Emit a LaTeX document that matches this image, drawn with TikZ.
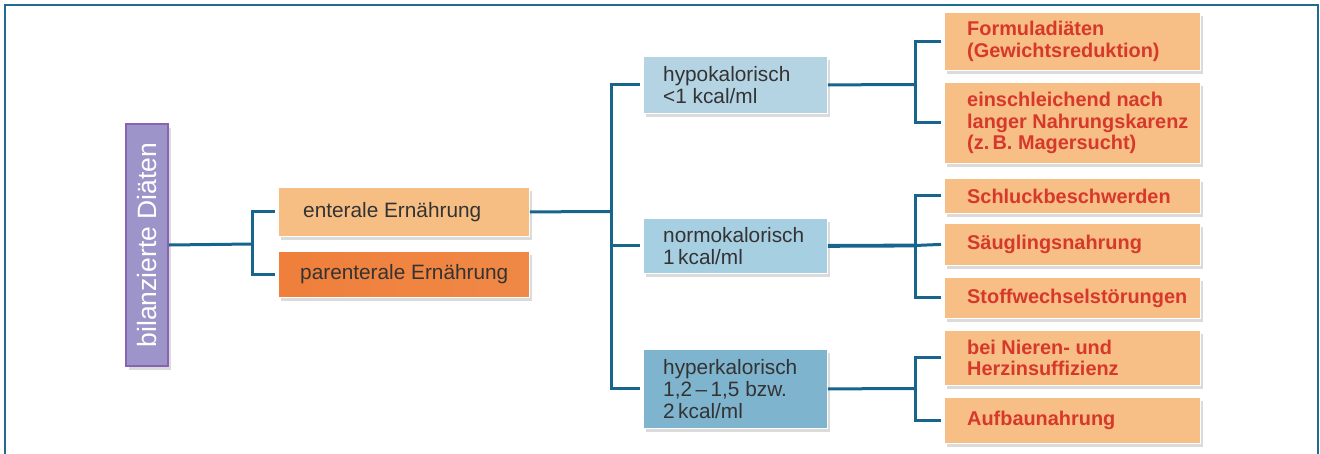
\documentclass[tikz,border=0pt]{standalone}
\usepackage{fontspec}
\setmainfont{Liberation Sans}
\usetikzlibrary{shadows}
\definecolor{framec}{HTML}{1D6D92}
\definecolor{connc}{HTML}{17658C}
\definecolor{purfill}{HTML}{9D94C9}
\definecolor{purdraw}{HTML}{8A62B2}
\definecolor{entfill}{HTML}{F7BE84}
\definecolor{parfill}{HTML}{EF7F3B}
\definecolor{hypofill}{HTML}{B4D4E4}
\definecolor{normofill}{HTML}{A7CFE2}
\definecolor{hyperfill}{HTML}{7FB4CE}
\definecolor{rfill}{HTML}{F7BE86}
\definecolor{redtxt}{HTML}{D7382C}
\definecolor{dtxt}{HTML}{333333}
\tikzset{
  shad/.style={drop shadow={shadow xshift=3pt, shadow yshift=-4pt, fill=black!14, opacity=1}},
  boxbase/.style={rectangle, draw=white, line width=0.8pt, shad, anchor=north west, inner sep=0pt},
  lbox/.style={boxbase, minimum width=251pt},
  bbox/.style={boxbase, minimum width=184pt},
  rbox/.style={boxbase, fill=rfill, minimum width=256pt},
  ltext/.style={anchor=west, inner sep=0pt, align=left, text=dtxt, font=\fontsize{20.8}{21.7}\selectfont},
  rtext/.style={anchor=west, inner sep=0pt, align=left, text=redtxt, font=\bfseries\fontsize{19.9}{21.5}\selectfont},
  conn/.style={draw=connc, line width=3pt},
}
\begin{document}
\begin{tikzpicture}[x=1pt,y=-1pt]
\useasboundingbox (0,0) rectangle (1320,453);
\clip (0,0) rectangle (1320,453);
% frame
\draw[framec, line width=2pt] (5,470) -- (5,5) -- (1318,5) -- (1318,470);

% root
\node[boxbase, draw=purdraw, line width=2pt, fill=purfill, minimum width=42pt, minimum height=242pt] (bil) at (125,123) {};
\node[rotate=90, text=white, inner sep=0pt, font=\fontsize{26.5}{28}\selectfont] (biltxt) at (bil.center) {bilanzierte Diäten};

% level 1
\node[lbox, fill=entfill, minimum height=49pt] (ent) at (278,187) {};
\node[ltext] (enttxt) at ([xshift=25pt]ent.west) {enterale Ernährung};
\node[lbox, left color=parfill, right color=parfill!85!entfill, minimum height=46pt] (par) at (278,251) {};
\node[ltext] (partxt) at ([xshift=22pt]par.west) {parenterale Ernährung};

% level 2
\node[bbox, fill=hypofill, minimum height=57pt] (hypo) at (643,56) {};
\node[ltext] (hypotxt) at ([xshift=20pt]hypo.west) {hypokalorisch\\<1 kcal/ml};
\node[bbox, fill=normofill, minimum height=55pt] (normo) at (643,218) {};
\node[ltext] (normotxt) at ([xshift=20pt]normo.west) {normokalorisch\\1\,kcal/ml};
\node[bbox, fill=hyperfill, minimum height=79pt] (hyper) at (643,349) {};
\node[ltext] (hypertxt) at ([xshift=20pt]hyper.west) {hyperkalorisch\\1,2\,–\,1,5 bzw.\\2\,kcal/ml};

% level 3
\node[rbox, minimum height=58pt] (f1) at (944,12) {};
\node[rtext] (f1t) at ([xshift=23pt]f1.west) {Formuladiäten\\(Gewichtsreduktion)};
\node[rbox, minimum height=81pt] (f2) at (944,82) {};
\node[rtext] (f2t) at ([xshift=23pt]f2.west) {einschleichend nach\\langer Nahrungskarenz\\(z.\,B. Magersucht)};
\node[rbox, minimum height=35pt] (s1) at (944,178) {};
\node[rtext] (s1t) at ([xshift=23pt]s1.west) {Schluckbeschwerden};
\node[rbox, minimum height=42pt] (s2) at (944,223) {};
\node[rtext] (s2t) at ([xshift=23pt]s2.west) {Säuglingsnahrung};
\node[rbox, minimum height=41pt] (s3) at (944,277) {};
\node[rtext] (s3t) at ([xshift=23pt]s3.west) {Stoffwechselstörungen};
\node[rbox, minimum height=55pt] (h1) at (944,330) {};
\node[rtext] (h1t) at ([xshift=23pt]h1.west) {bei Nieren- und\\Herzinsuffizienz};
\node[rbox, minimum height=46pt] (h2) at (944,397) {};
\node[rtext] (h2t) at ([xshift=23pt]h2.west) {Aufbaunahrung};

% junctions
\coordinate (j1) at (252,244);
\coordinate (j2) at (611,211.5);
\coordinate (j3) at (915,84.5);
\coordinate (j4) at (915,245.5);
\coordinate (j5) at (915,388.5);

% connectors
\draw[conn] (bil.east) -- (j1);
\draw[conn] ([xshift=-3pt]ent.west) -| (j1) |- ([xshift=-3pt]par.west);
\draw[conn] (ent.east) -- (j2);
\draw[conn] ([xshift=-3pt]hypo.west) -| (j2) |- ([xshift=-3pt]hyper.west);
\draw[conn] (j2 |- normo.west) -- ([xshift=-3pt]normo.west);
\draw[conn] (hypo.east) -- (j3);
\draw[conn] ([xshift=-3pt]f1.west) -| (j3) |- ([xshift=-3pt]f2.west);
\draw[conn, line width=3.8pt] (normo.east) -- (j4);
\draw[conn] ([xshift=-3pt]s1.west) -| (j4) |- ([xshift=-3pt]s3.west);
\draw[conn] (j4) -- ([xshift=-3pt]s2.west);
\draw[conn] (hyper.east) -- (j5);
\draw[conn] ([xshift=-3pt]h1.west) -| (j5) |- ([xshift=-3pt]h2.west);
\end{tikzpicture}
\end{document}
